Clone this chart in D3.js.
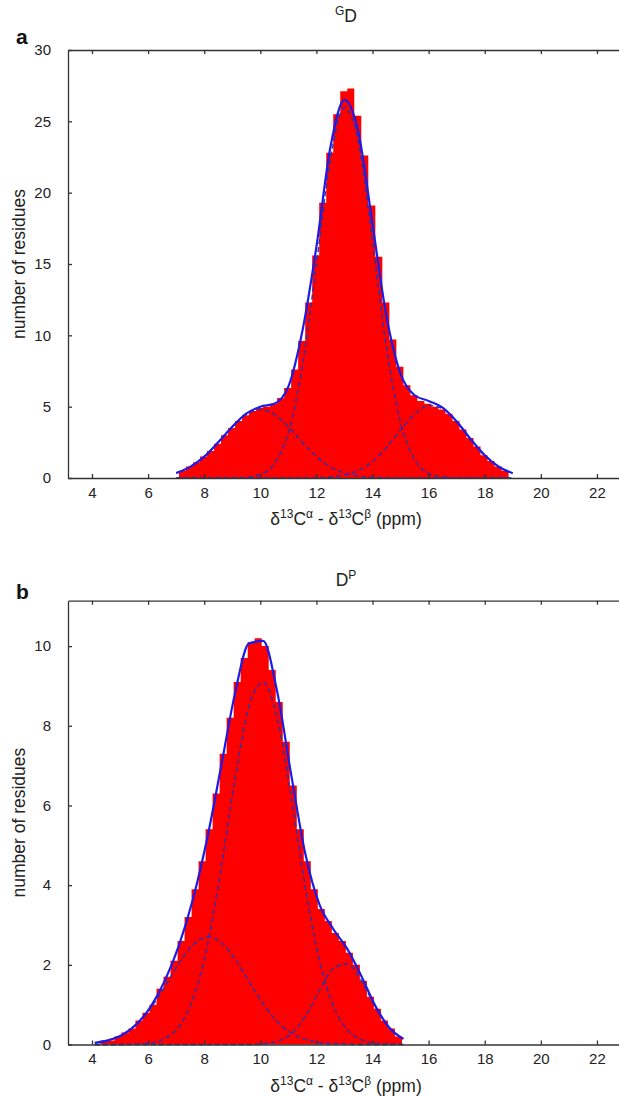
<!DOCTYPE html>
<html>
<head>
<meta charset="utf-8">
<title>GD / DP shift histograms</title>
<script src="https://d3js.org/d3.v7.min.js"></script>
<style>
body { margin: 0; background: #fff; }
svg { display: block; font-family: "Liberation Sans", Arial, sans-serif; }
.axis path, .axis line { stroke: #333; stroke-width: 1.3; }
.axis text { font-size: 15px; fill: #222; font-family: "Liberation Sans", Arial, sans-serif; }
.title { font-size: 17.5px; fill: #222; }
</style>
</head>
<body>
<script>
// shared x ticks and histogram bin width (ppm)
let xTicks = [4, 6, 8, 10, 12, 14, 16, 18, 20, 22];
let binWidth = 0.25;

// ---- panel a : GD ----
let gdTicksY = [0, 5, 10, 15, 20, 25, 30];
let gdBinStart = 7.1;
let gdCounts = [0.5, 0.8, 1.1, 1.5, 1.9, 2.4, 3.0, 3.5, 4.0, 4.4, 4.7, 4.9, 5.0, 5.2, 5.6, 6.3,
    7.6, 9.6, 12.3, 15.6, 19.3, 22.8, 25.5, 27.1, 27.3, 25.4, 22.6, 19.1, 15.5, 12.3, 9.7, 7.8,
    6.5, 5.8, 5.4, 5.2, 5.0, 4.8, 4.5, 4.0, 3.4, 2.8, 2.2, 1.6, 1.2, 0.8, 0.5];
let gdFitX = [7, 7.5, 8, 8.5, 9, 9.5, 10, 10.5, 11, 11.5, 12, 12.5, 13, 13.5, 14, 14.5, 15, 15.5,
    16, 16.5, 17, 17.5, 18, 18.5, 19];
let gdFitTotal = [0.35, 0.78, 1.5, 2.5, 3.59, 4.51, 5.0, 5.2, 6.4, 10.3, 16.2, 23.2, 26.5, 24.2,
    17.8, 11.3, 7.3, 5.8, 5.4, 4.93, 3.96, 2.72, 1.59, 0.79, 0.33];
let gdFitLow = [0.35, 0.78, 1.5, 2.5, 3.59, 4.46, 4.8, 4.46, 3.59, 2.5, 1.5, 0.78, 0.35, 0.14,
    0.05, 0.01, 0, 0, 0, 0, 0, 0, 0, 0, 0];
let gdFitMain = [0, 0, 0, 0, 0.01, 0.05, 0.25, 1.01, 3.19, 7.83, 14.98, 22.36, 25.97, 23.5, 16.55,
    9.09, 3.89, 1.3, 0.33, 0.07, 0.01, 0, 0, 0, 0];
let gdFitHigh = [0, 0, 0, 0, 0, 0, 0, 0, 0, 0, 0.02, 0.07, 0.21, 0.53, 1.16, 2.15, 3.37, 4.49,
    5.08, 4.86, 3.95, 2.72, 1.59, 0.79, 0.33];

// ---- panel b : DP ----
let dpTicksY = [0, 2, 4, 6, 8, 10];
let dpBinStart = 4.3;
let dpCounts = [0.1, 0.1, 0.2, 0.3, 0.4, 0.6, 0.8, 1.0, 1.4, 1.7, 2.1, 2.6, 3.2, 3.9, 4.6, 5.4,
    6.3, 7.3, 8.2, 9.1, 9.7, 10.1, 10.2, 10.0, 9.4, 8.6, 7.6, 6.5, 5.4, 4.6, 3.9, 3.4, 3.1, 2.8,
    2.6, 2.3, 2.0, 1.6, 1.2, 0.9, 0.6, 0.4, 0.2];
let dpFitX = [4.1, 4.6, 5.1, 5.6, 6.1, 6.6, 7.1, 7.6, 8.1, 8.6, 9.1, 9.6, 10.1, 10.6, 11.1, 11.6,
    12.1, 12.6, 13.1, 13.6, 14.1, 14.6, 15.1];
let dpFitTotal = [0.04, 0.11, 0.25, 0.52, 0.96, 1.61, 2.49, 3.65, 5.15, 6.97, 8.82, 10.07, 10.13,
    8.86, 6.78, 4.8, 3.53, 2.9, 2.4, 1.72, 0.97, 0.42, 0.14];
let dpFitLow = [0.04, 0.11, 0.25, 0.51, 0.92, 1.46, 2.04, 2.5, 2.7, 2.56, 2.15, 1.58, 1.02, 0.58,
    0.29, 0.13, 0.05, 0.02, 0.01, 0, 0, 0, 0];
let dpFitMain = [0, 0, 0, 0.01, 0.04, 0.15, 0.45, 1.15, 2.45, 4.41, 6.67, 8.49, 9.09, 8.2, 6.22,
    3.97, 2.14, 0.97, 0.37, 0.12, 0.03, 0.01, 0];
let dpFitHigh = [0, 0, 0, 0, 0, 0, 0, 0, 0, 0, 0, 0, 0.02, 0.08, 0.27, 0.7, 1.34, 1.91, 2.02, 1.6,
    0.94, 0.41, 0.14];

let svg = d3.select('body').append('svg').attr('width', 619).attr('height', 1096);

function sup(sel, txt) {
    sel.append('tspan').attr('baseline-shift', 'super').attr('font-size', '12px').text(txt);
}

function drawPanel(p) {
    let x = d3.scaleLinear().domain([3.145, 23]).range([68, 625]);
    let y = d3.scaleLinear().domain([0, p.yMax]).range([p.bottom, p.top]);
    let g = svg.append('g');

    // histogram as one stepped area, so neighbouring bins leave no seams
    let steps = p.counts.map((d, i) => [p.binStart + i * binWidth, d]);
    steps.push([p.binStart + p.counts.length * binWidth, p.counts[p.counts.length - 1]]);
    let area = d3.area().curve(d3.curveStepAfter)
        .x(d => x(d[0])).y0(y(0)).y1(d => y(d[1]));
    g.append('path').datum(steps).attr('d', area).attr('fill', '#ff0000');

    let line = d3.line().x(d => x(d[0])).y(d => y(d[1])).curve(d3.curveMonotoneX);

    p.parts.forEach(part => {
        g.append('path').datum(d3.zip(p.fitX, part)).attr('d', line)
            .attr('fill', 'none').attr('stroke', '#3030a8')
            .attr('stroke-width', 1.4).attr('stroke-dasharray', '5,3');
    });
    g.append('path').datum(d3.zip(p.fitX, p.total)).attr('d', line)
        .attr('fill', 'none').attr('stroke', '#1c1ce6').attr('stroke-width', 2.2);

    // axes, ticks pointing inward
    g.append('g').attr('class', 'axis').attr('transform', 'translate(0,' + p.bottom + ')')
        .call(d3.axisBottom(x).tickValues(xTicks).tickSizeInner(-4).tickSizeOuter(0).tickPadding(9));
    g.append('g').attr('class', 'axis').attr('transform', 'translate(0,' + p.top + ')')
        .call(d3.axisTop(x).tickValues(xTicks).tickSizeInner(-4).tickSizeOuter(0).tickFormat(''));
    g.append('g').attr('class', 'axis').attr('transform', 'translate(68,0)')
        .call(d3.axisLeft(y).tickValues(p.ticksY).tickSizeInner(-4).tickSizeOuter(0).tickPadding(17));
    g.selectAll('.axis .domain').attr('fill', 'none');

    // x axis title with superscripts
    let xt = g.append('text').attr('class', 'title').attr('x', 346).attr('y', p.bottom + 47)
        .attr('text-anchor', 'middle');
    xt.append('tspan').text('δ');
    sup(xt, '13');
    xt.append('tspan').text('C');
    sup(xt, 'α');
    xt.append('tspan').text(' - δ');
    sup(xt, '13');
    xt.append('tspan').text('C');
    sup(xt, 'β');
    xt.append('tspan').text(' (ppm)');

    g.append('text').attr('class', 'title').attr('text-anchor', 'middle')
        .attr('transform', 'translate(25,' + (p.top + p.bottom) / 2 + ') rotate(-90)')
        .text('number of residues');

    // panel letter and title
    g.append('text').attr('x', 16).attr('y', p.letterY).attr('font-size', '21px')
        .attr('font-weight', 'bold').attr('fill', '#111').text(p.letter);
    let tt = g.append('text').attr('class', 'title').attr('x', 346).attr('y', p.titleY)
        .attr('text-anchor', 'middle');
    if (p.pre) sup(tt, p.pre);
    tt.append('tspan').text(p.main);
    if (p.post) sup(tt, p.post);
}

drawPanel({
    top: 50, bottom: 478, yMax: 30, ticksY: gdTicksY,
    binStart: gdBinStart, counts: gdCounts,
    fitX: gdFitX, total: gdFitTotal, parts: [gdFitLow, gdFitMain, gdFitHigh],
    letter: 'a', letterY: 44, pre: 'G', main: 'D', titleY: 22
});

drawPanel({
    top: 600.7, bottom: 1044.5, yMax: 11.14, ticksY: dpTicksY,
    binStart: dpBinStart, counts: dpCounts,
    fitX: dpFitX, total: dpFitTotal, parts: [dpFitLow, dpFitMain, dpFitHigh],
    letter: 'b', letterY: 599, pre: null, main: 'D', post: 'P', titleY: 586
});
</script>
</body>
</html>
